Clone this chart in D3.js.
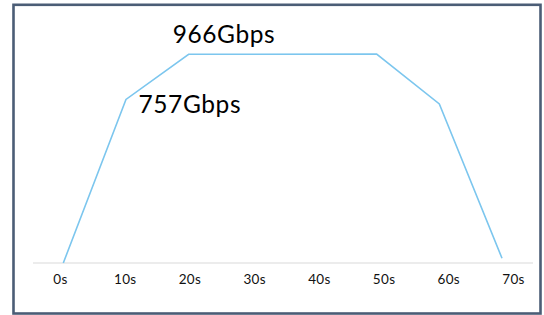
<!DOCTYPE html>
<html>
<head>
<meta charset="utf-8">
<script src="https://cdn.jsdelivr.net/npm/d3@7"></script>
<style>
  html, body { margin: 0; padding: 0; background: #fff; }
  svg { display: block; }
</style>
</head>
<body>
<svg id="chart" width="544" height="315"></svg>
<script>
// Data
const categories = ["0s", "10s", "20s", "30s", "40s", "50s", "60s", "70s"];
const times = [0, 10, 20, 50, 60, 70];
const throughput = [0, 757, 966, 967, 736, 22];
const annotations = [
  { t: 20, v: 966, label: "966Gbps" },
  { t: 10, v: 757, label: "757Gbps" }
];

const svg = d3.select("#chart");

// frame
svg.append("rect")
  .attr("x", 13.5).attr("y", 4.8)
  .attr("width", 527).attr("height", 308.7)
  .attr("fill", "#fff")
  .attr("stroke", "#4b5d76")
  .attr("stroke-width", 2.6);

const x = d3.scaleLinear().domain([0, 70]).range([63.3, 502]);
const y = d3.scaleLinear().domain([0, 966]).range([263, 54.3]);
const xLabel = d3.scalePoint().domain(categories).range([60, 513]);

// baseline
svg.append("line")
  .attr("x1", 33).attr("x2", 533)
  .attr("y1", y(0)).attr("y2", y(0))
  .attr("stroke", "#d9d9d9")
  .attr("stroke-width", 1);

// tick labels via axis
const axis = d3.axisBottom(xLabel).tickSize(0).tickPadding(0);
const gAxis = svg.append("g")
  .attr("transform", `translate(0, ${y(0) + 11.5})`)
  .call(axis);
gAxis.select(".domain").remove();
gAxis.selectAll("text")
  .attr("font-family", "Lato, 'Open Sans', sans-serif")
  .attr("font-size", 13.5)
  .attr("letter-spacing", 0.3)
  .attr("fill", "#111");

// line
const pts = times.map((t, i) => ({ t, v: throughput[i] }));
svg.append("path")
  .datum(pts)
  .attr("fill", "none")
  .attr("stroke", "#7cc6ee")
  .attr("stroke-width", 1.6)
  .attr("d", d3.line().x(d => x(d.t)).y(d => y(d.v)));

// annotations
const offsets = { "966Gbps": [-16, -11], "757Gbps": [12.5, 14] };
svg.selectAll("text.ann")
  .data(annotations)
  .enter().append("text")
  .attr("class", "ann")
  .attr("x", d => x(d.t) + offsets[d.label][0])
  .attr("y", d => y(d.v) + offsets[d.label][1])
  .attr("font-family", "Lato, 'Open Sans', sans-serif")
  .attr("font-size", 24.5)
  .attr("letter-spacing", 0.6)
  .attr("fill", "#000")
  .text(d => d.label);
</script>
</body>
</html>
